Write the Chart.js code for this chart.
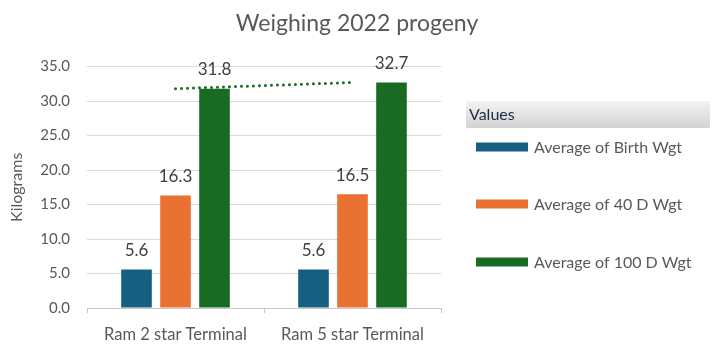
<!DOCTYPE html>
<html>
<head>
<meta charset="utf-8">
<script src="https://cdn.jsdelivr.net/npm/chart.js@4"></script>
<style>
  html, body { margin: 0; padding: 0; background: #fff; }
  #wrap { width: 714px; height: 350px; }
</style>
</head>
<body>
<div id="wrap"><canvas id="myChart"></canvas></div>
<script>
const categories = ["Ram 2 star Terminal", "Ram 5 star Terminal"];
const seriesNames = ["Average of Birth Wgt", "Average of 40 D Wgt", "Average of 100 D Wgt"];
const birthWgt = [5.6, 5.6];
const wgt40 = [16.3, 16.5];
const wgt100 = [31.8, 32.7];
const trend100 = [31.8, 32.7];
const colors = ["#156082", "#E97132", "#196B24"];

Chart.defaults.font.family = "Lato";
Chart.defaults.color = "#595959";

// value labels above each bar
const barLabels = {
  id: "barLabels",
  afterDatasetsDraw(chart) {
    const ctx = chart.ctx;
    ctx.save();
    ctx.font = "17px Lato";
    ctx.fillStyle = "#404040";
    ctx.textAlign = "center";
    ctx.textBaseline = "middle";
    chart.data.datasets.forEach((ds, i) => {
      if (ds.type === "line") return;
      chart.getDatasetMeta(i).data.forEach((bar, j) => {
        ctx.fillText(ds.data[j].toFixed(1), bar.x, bar.y - 19);
      });
    });
    ctx.restore();
  },
};

// Excel style legend box on the right
const sideLegend = {
  id: "sideLegend",
  afterDraw(chart) {
    const ctx = chart.ctx;
    ctx.save();
    const g = ctx.createLinearGradient(0, 101, 0, 128);
    g.addColorStop(0, "#f3f3f3");
    g.addColorStop(1, "#d2d2d2");
    ctx.fillStyle = g;
    ctx.fillRect(466, 101, 244, 27);
    ctx.font = "16px Lato";
    ctx.textBaseline = "middle";
    ctx.fillStyle = "#1f2a44";
    ctx.fillText("Values", 469, 115);
    const ys = [147, 204, 262];
    seriesNames.forEach((name, i) => {
      ctx.fillStyle = colors[i];
      ctx.fillRect(476, ys[i] - 4.5, 52, 9);
      ctx.fillStyle = "#595959";
      ctx.fillText(name, 534, ys[i] + 1);
    });
    ctx.restore();
  },
};

const barOpts = { categoryPercentage: 0.661, barPercentage: 0.785, order: 1 };

const data = {
  labels: categories,
  datasets: [
    { label: seriesNames[0], data: birthWgt, backgroundColor: colors[0], ...barOpts },
    { label: seriesNames[1], data: wgt40, backgroundColor: colors[1], ...barOpts },
    { label: seriesNames[2], data: wgt100, backgroundColor: colors[2], ...barOpts },
    {
      type: "line",
      label: "Trend",
      data: trend100,
      borderColor: colors[2],
      borderWidth: 3,
      borderDash: [0, 6],
      borderCapStyle: "round",
      pointRadius: 0,
      fill: false,
      order: 0,
    },
  ],
};

const config = {
  type: "bar",
  data: data,
  options: {
    responsive: true,
    maintainAspectRatio: false,
    animation: false,
    plugins: {
      legend: { display: false },
      tooltip: { enabled: false },
      title: {
        display: true,
        text: "Weighing 2022 progeny",
        font: { size: 23, weight: "normal" },
        color: "#595959",
        padding: { top: 10, bottom: 29 },
      },
    },
    scales: {
      y: {
        min: 0,
        max: 35,
        afterFit(scale) { scale.width = 87; },
        border: { display: false },
        grid: { color: "#d9d9d9", drawTicks: false },
        ticks: {
          stepSize: 5,
          padding: 17,
          font: { size: 15 },
          color: "#595959",
          callback: (v) => v.toFixed(1),
        },
        title: {
          display: true,
          text: "Kilograms",
          font: { size: 16 },
          color: "#595959",
          padding: { top: 7, bottom: 0 },
        },
      },
      // empty right scale that reserves the room for the legend box
      yRight: {
        position: "right",
        min: 0,
        max: 35,
        afterFit(scale) { scale.width = 273; },
        border: { display: false },
        grid: { display: false },
        ticks: { display: false },
      },
      x: {
        afterFit(scale) { scale.height = 42; },
        border: { display: true, color: "#c8c8c8" },
        grid: { offset: true, drawOnChartArea: false, drawTicks: true, tickLength: 5, color: "#c8c8c8" },
        ticks: { padding: 12, font: { size: 16.5 }, color: "#595959" },
      },
    },
  },
  plugins: [barLabels, sideLegend],
};

let myChart = new Chart(document.getElementById("myChart"), config);
</script>
</body>
</html>
